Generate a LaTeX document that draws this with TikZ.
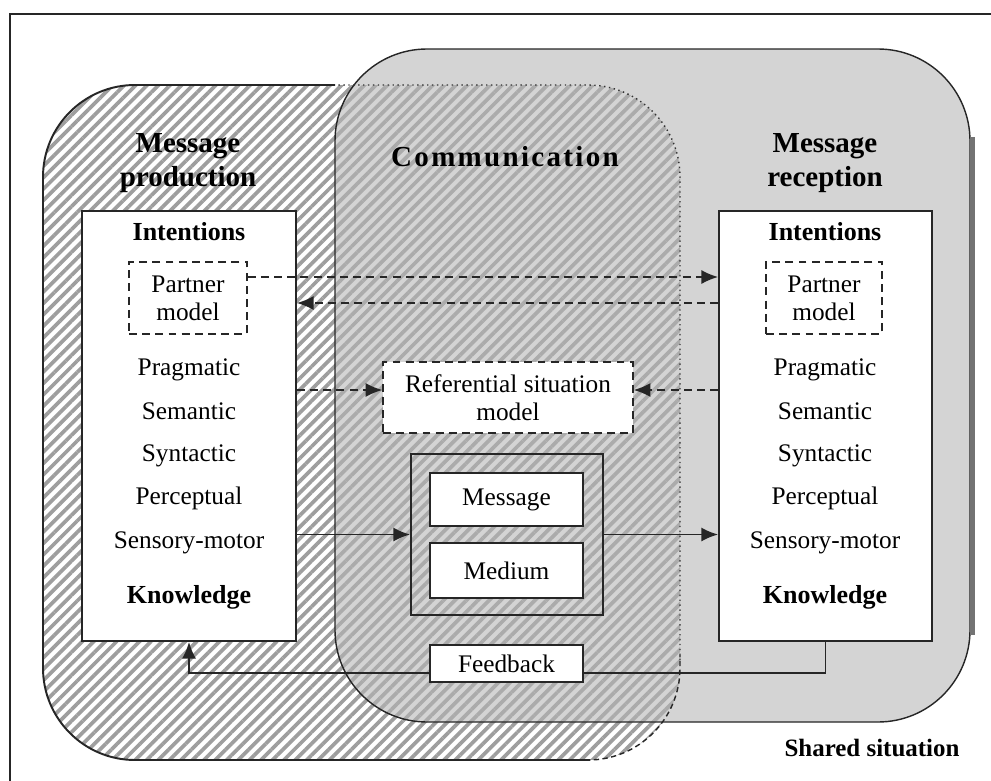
\documentclass[tikz,border=0pt]{standalone}
\usepackage{fontspec}
\setmainfont{Liberation Serif}
\usetikzlibrary{arrows.meta,patterns.meta,calc}
\tikzset{
  body/.style={font=\fontsize{14.4pt}{16pt}\selectfont, align=center, inner sep=0pt},
  bodyb/.style={font=\fontsize{14.8pt}{17pt}\selectfont\bfseries, align=center, inner sep=0pt},
  head/.style={font=\fontsize{16.5pt}{19.3pt}\selectfont\bfseries, align=center, inner sep=0pt},
  wbox/.style={draw=black!85, line width=1.1pt, fill=white, inner sep=0pt},
  dbox/.style={draw=black!85, line width=0.9pt, dash pattern=on 4.5pt off 3pt, fill=white, inner sep=0pt, font=\fontsize{14.4pt}{16pt}\selectfont, align=center},
  dar/.style={draw=black!85, line width=0.9pt, dash pattern=on 4.5pt off 3pt, -{Latex[length=9.5pt,width=8pt]}},
  sar/.style={draw=black!85, line width=1.1pt, -{Latex[length=9.5pt,width=8pt]}},
  sln/.style={draw=black!85, line width=1.1pt},
  hatchw/.style={pattern={Lines[angle=45,distance=4.6pt,line width=2.1pt]}, pattern color=black!38},
  hatchg/.style={pattern={Lines[angle=45,distance=4.6pt,line width=2.1pt]}, pattern color=black!33},
  rc/.style={rounded corners=1.84cm}
}
\begin{document}
\begin{tikzpicture}[x=0.02cm, y=-0.02cm]
\useasboundingbox (0,0) rectangle (991,781);
\fill[white] (0,0) rectangle (991,781);
% frame
\draw[line width=1.1pt, black!85] (10,781) -- (10,14) -- (991,14);
% shared situation region (gray)
\fill[rc, black!17] (335,49) rectangle (970,722);
% message production region (hatched)
\fill[rc, white] (43,85) rectangle (680,760);
\fill[rc, hatchw] (43,85) rectangle (680,760);
% overlap: communication
\begin{scope}
  \clip[rc] (335,49) rectangle (970,722);
  \fill[rc, black!17] (43,85) rectangle (680,760);
  \fill[rc, hatchg] (43,85) rectangle (680,760);
\end{scope}
% borders
\draw[rc, line width=0.8pt, black!85] (335,49) rectangle (970,722);
\draw[line width=2.6pt, black!55] (972.5,137) -- (972.5,635);
\draw[rc, line width=1.1pt, black!85] (335,85) -- (43,85) -- (43,760) -- (590,760);
\draw[rc, line width=0.8pt, black!85, dash pattern=on 3pt off 2pt] (585,760) -- (680,760) -- (680,655);
\draw[rc, line width=0.8pt, black!80, dotted] (680,660) -- (680,85) -- (335,85);
% titles
\node[head] (tprod) at (188,163) {Message\\production};
\node[head, font=\fontsize{16.5pt}{19.3pt}\selectfont\bfseries\addfontfeature{LetterSpace=8}] (tcomm) at (505,157) {Communication};
\node[head] (trec) at (825,163) {Message\\reception};
\node[bodyb, font=\fontsize{14.2pt}{16pt}\selectfont\bfseries] (tshared) at (872,748) {Shared situation};
% left box
\node[wbox, minimum width=4.28cm, minimum height=8.6cm] (lbox) at (189,426) {};
\node[bodyb] (lint) at (189,232) {Intentions};
\node[dbox, minimum width=2.36cm, minimum height=1.44cm] (lpm) at (188,298) {Partner\\model};
\node[body] (lprag) at (189,370) {Pragmatic};
\node[body] (lsem) at (189,411) {Semantic};
\node[body] (lsyn) at (189,456) {Syntactic};
\node[body] (lper) at (189,498) {Perceptual};
\node[body] (lsen) at (189,543) {Sensory-motor};
\node[bodyb] (lkno) at (189,597) {Knowledge};
% right box
\node[wbox, minimum width=4.26cm, minimum height=8.6cm] (rbox) at (825.5,426) {};
\node[bodyb] (rint) at (825,232) {Intentions};
\node[dbox, minimum width=2.32cm, minimum height=1.44cm] (rpm) at (824,298) {Partner\\model};
\node[body] (rprag) at (825,370) {Pragmatic};
\node[body] (rsem) at (825,411) {Semantic};
\node[body] (rsyn) at (825,456) {Syntactic};
\node[body] (rper) at (825,498) {Perceptual};
\node[body] (rsen) at (825,543) {Sensory-motor};
\node[bodyb] (rkno) at (825,597) {Knowledge};
% communication content
\node[dbox, minimum width=5.0cm, minimum height=1.42cm] (ref) at (508,397.5) {Referential situation\\model};
\node[draw=black!85, line width=1.1pt, minimum width=3.84cm, minimum height=3.22cm, inner sep=0pt] (cont) at (507,534.5) {};
\node[wbox, body, minimum width=3.06cm, minimum height=1.06cm] (msg) at (506.5,499.5) {Message};
\node[wbox, body, minimum width=3.06cm, minimum height=1.1cm] (med) at (506.5,570.5) {Medium};
\node[wbox, body, minimum width=3.06cm, minimum height=0.74cm] (fb) at (506.5,663.5) {Feedback};
% dashed connectors
\draw[dar] ([yshift=0.42cm]lpm.east) -- ([yshift=0.42cm]lpm.east -| rbox.west);
\draw[dar] ([yshift=2.46cm]rbox.west) -- ([yshift=2.46cm]rbox.west -| lbox.east);
\draw[dar] ([yshift=0.15cm]ref.west -| lbox.east) -- ([yshift=0.15cm]ref.west);
\draw[dar] ([yshift=0.15cm]ref.east -| rbox.west) -- ([yshift=0.15cm]ref.east);
% solid connectors
\draw[sar] (lbox.east |- cont.west) -- (cont.west);
\draw[sar] (cont.east) -- (cont.east -| rbox.west);
\draw[sln] (rbox.south) |- ([yshift=-0.19cm]fb.east);
\draw[sar] ([yshift=-0.19cm]fb.west) -| (lbox.south);
\end{tikzpicture}
\end{document}
